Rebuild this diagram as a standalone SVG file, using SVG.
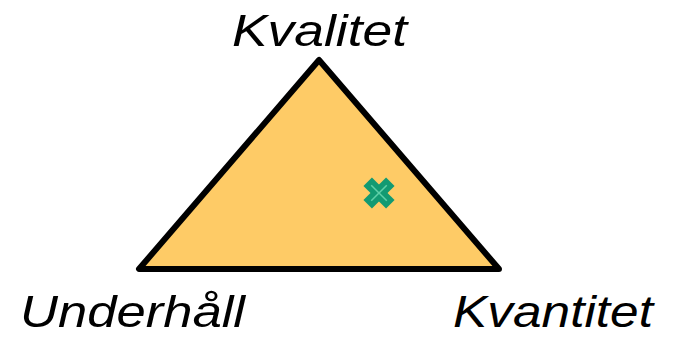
<svg xmlns="http://www.w3.org/2000/svg" width="675" height="337" viewBox="0 0 675 337">
<style>
.lbl{font-family:"Liberation Sans",Arial,sans-serif;font-style:italic;font-size:44px;fill:#000}
</style>
<rect width="675" height="337" fill="#fff"/>
<g id="triangle">
<polygon points="319,60 139,269 499,269" fill="#FECB66" stroke="#000" stroke-width="6" stroke-linejoin="round"/>
</g>
<g id="marker" transform="translate(379,193) rotate(45)">
<rect x="-16" y="-6" width="32" height="12" fill="#129A72"/>
<rect x="-6" y="-16" width="12" height="32" fill="#129A72"/>
<line x1="-11" y1="0" x2="11" y2="0" stroke="#5FD0A8" stroke-width="1.5"/>
<line x1="0" y1="-11" x2="0" y2="11" stroke="#5FD0A8" stroke-width="1.5"/>
</g>
<g id="kvalitet"><text class="lbl" x="232" y="46" textLength="175" lengthAdjust="spacingAndGlyphs">Kvalitet</text></g>
<g id="underhall"><text class="lbl" x="20" y="327" textLength="225" lengthAdjust="spacingAndGlyphs">Underhåll</text></g>
<g id="kvantitet"><text class="lbl" x="453" y="327" textLength="200" lengthAdjust="spacingAndGlyphs">Kvantitet</text></g>
</svg>
